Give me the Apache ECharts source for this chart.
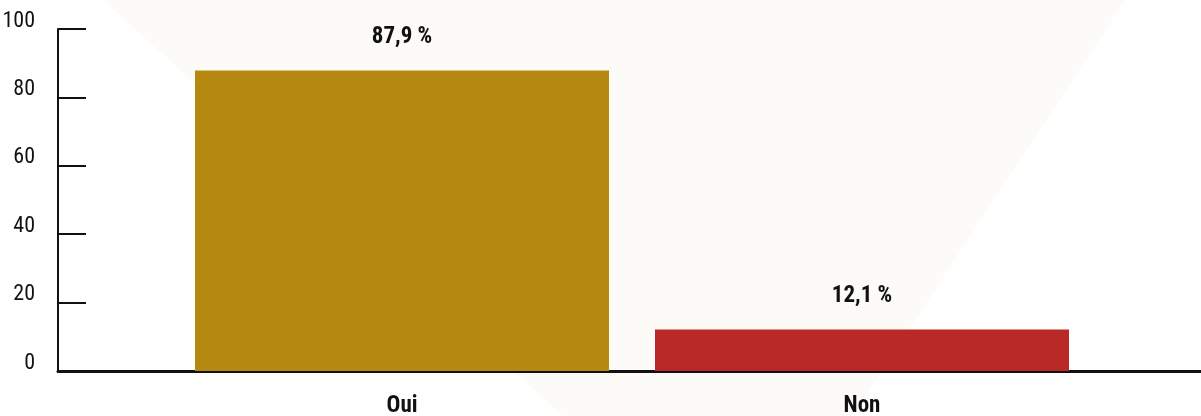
<!DOCTYPE html>
<html>
<head>
<meta charset="utf-8">
<script src="https://cdn.jsdelivr.net/npm/echarts@6/dist/echarts.min.js"></script>
<style>
  html, body { margin: 0; padding: 0; background: #ffffff; }
  #chart { width: 1201px; height: 416px; }
</style>
</head>
<body>
<div id="chart"></div>
<script>
const categories = ['Oui', 'Non'];
const values = [87.9, 12.1];
const barColors = ['#b5890f', '#b92927'];
const yTicks = [0, 20, 40, 60, 80, 100];

// pick the narrowest installed condensed face
function pickFont() {
    const ctx = document.createElement('canvas').getContext('2d');
    const candidates = ['Roboto Condensed', 'Liberation Sans Narrow', 'Open Sans Condensed',
        'Noto Sans Condensed', 'DejaVu Sans Condensed'];
    const probe = '100 87,9 % Oui Non';
    let best = null, bestW = Infinity;
    candidates.forEach(name => {
        ctx.font = '40px "' + name + '", monospace';
        const w = ctx.measureText(probe).width;
        ctx.font = '40px monospace';
        const ref = ctx.measureText(probe).width;
        if (Math.abs(w - ref) > 0.5 && w < bestW) {
            best = name;
            bestW = w;
        }
    });
    return best ? '"' + best + '", sans-serif' : 'sans-serif';
}
const font = pickFont();

echarts.init(document.getElementById('chart'))
    .setOption({
        animation: false,
        backgroundColor: '#ffffff',
        textStyle: {
            fontFamily: font
        },
        graphic: [{
            type: 'polygon',
            z: -10,
            shape: {
                points: [[103, 0], [1125, 0], [852, 416], [563, 416]]
            },
            style: {
                fill: '#fcfbf7'
            }
        }],
        grid: [
            { left: 172, right: 109, top: 29, bottom: 45, outerBoundsMode: 'none' },
            { left: 58, right: 0, top: 29, bottom: 45, outerBoundsMode: 'none' }
        ],
        xAxis: [{
            type: 'category',
            gridIndex: 0,
            data: categories,
            axisLine: { show: false },
            axisTick: { show: false },
            axisLabel: {
                margin: 24,
                fontSize: 23,
                fontWeight: 'bold',
                color: '#111111',
                fontFamily: font
            }
        }, {
            type: 'value',
            gridIndex: 1,
            min: 0,
            max: 1,
            splitLine: { show: false },
            axisTick: { show: false },
            axisLabel: { show: false },
            axisLine: {
                show: true,
                lineStyle: { color: '#111111', width: 3 }
            }
        }],
        yAxis: [{
            type: 'value',
            gridIndex: 0,
            min: yTicks[0],
            max: yTicks[yTicks.length - 1],
            interval: 20,
            show: false
        }, {
            type: 'value',
            gridIndex: 1,
            min: yTicks[0],
            max: yTicks[yTicks.length - 1],
            interval: 20,
            splitLine: { show: false },
            axisLine: {
                show: true,
                lineStyle: { color: '#111111', width: 2 }
            },
            axisTick: {
                show: true,
                inside: true,
                length: 28,
                lineStyle: { color: '#111111', width: 2 }
            },
            axisLabel: {
                margin: 23,
                fontSize: 22,
                color: '#111111',
                fontFamily: font,
                verticalAlign: 'bottom',
                lineHeight: 16
            }
        }],
        series: [{
            type: 'bar',
            xAxisIndex: 0,
            yAxisIndex: 0,
            barWidth: 414,
            data: values.map((v, i) => ({
                value: v,
                itemStyle: { color: barColors[i] }
            })),
            label: {
                show: true,
                position: 'top',
                distance: 22,
                fontSize: 23,
                fontWeight: 'bold',
                color: '#111111',
                fontFamily: font,
                formatter: p => String(p.value).replace('.', ',') + ' %'
            }
        }]
    });
</script>
</body>
</html>
